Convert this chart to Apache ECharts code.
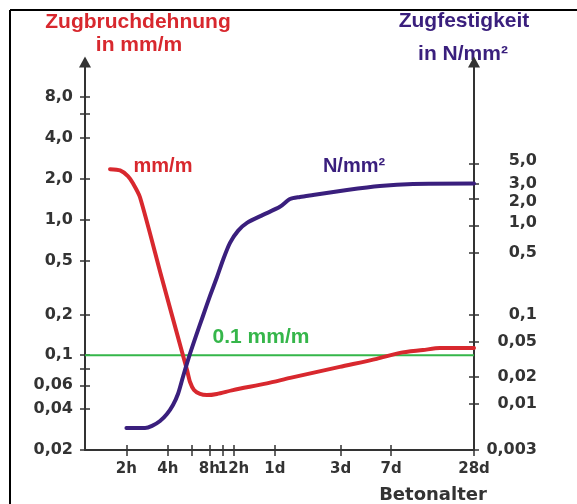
<!DOCTYPE html>
<html>
<head>
<meta charset="utf-8">
<script src="https://cdn.jsdelivr.net/npm/echarts@6/dist/echarts.min.js"></script>
<style>
  html, body { margin: 0; padding: 0; background: #ffffff; }
  #chart { width: 577px; height: 504px; }
</style>
</head>
<body>
<div id="chart"></div>
<script>
// Concrete age in hours (x axis, logarithmic)
const ageTickHours  = [2, 4, 6, 8, 10, 12, 24, 72, 168, 672];
const ageTickLabels = ['2h', '4h', '', '8h', '', '12h', '1d', '3d', '7d', '28d'];

// Left axis: ultimate tensile strain in mm/m
const strainTickValues = [8, 6, 4, 2, 1, 0.5, 0.2, 0.1, 0.08, 0.06, 0.04, 0.02];
const strainTickLabels = ['8,0', '', '4,0', '2,0', '1,0', '0,5', '0,2', '0,1', '', '0,06', '0,04', '0,02'];

// Right axis: tensile strength in N/mm²
const strengthTickValues = [5, 3, 2, 1, 0.5, 0.1, 0.05, 0.02, 0.01, 0.003];
const strengthTickLabels = ['5,0', '3,0', '2,0', '1,0', '0,5', '0,1', '0,05', '0,02', '0,01', '0,003'];

// Tensile strain curve (mm/m) over concrete age (h)
const strainHours  = [1.52, 1.8, 2.05, 2.23, 2.51, 3.6, 5.15, 5.51, 5.8, 6.2, 6.85, 7.7, 9.1, 11.9, 21, 31, 71, 132, 195, 286, 380, 672];
const strainValues = [2.35, 2.3, 2.09, 1.85, 1.46, 0.377, 0.1, 0.078, 0.0634, 0.0554, 0.0518, 0.0508, 0.0518, 0.0553, 0.062, 0.068, 0.082, 0.094, 0.104, 0.109, 0.113, 0.113];

// Tensile strength curve (N/mm²) over concrete age (h)
const strengthHours  = [2, 2.73, 3.07, 3.51, 3.94, 4.36, 4.74, 5.15, 5.7, 6.41, 7.2, 8.1, 9.11, 10.07, 11.32, 12.94, 15.04, 19.66, 26.1, 30.9, 36.5, 45.4, 80.2, 139, 242, 672];
const strengthValues = [0.0053, 0.0053, 0.0056, 0.00636, 0.00763, 0.00964, 0.0128, 0.0199, 0.0335, 0.0577, 0.0968, 0.163, 0.266, 0.414, 0.643, 0.878, 1.08, 1.33, 1.64, 2.01, 2.12, 2.23, 2.54, 2.82, 2.97, 3.0];

// Limit value 0.1 mm/m
const limitHours  = [1, 672];
const limitStrain = [0.1, 0.1];

const RED = '#d8282e';
const PURPLE = '#3a1f7d';
const GREEN = '#35b64a';
const AXIS = '#333333';
const TICK_FONT = '"DejaVu Sans", sans-serif';
const TITLE_FONT = '"Liberation Sans", Arial, sans-serif';

function pairs(xs, ys) { return xs.map((x, i) => [x, ys[i]]); }
function indexOf(values, v) {
  let best = 0, bestErr = Infinity;
  values.forEach((t, i) => {
    const err = Math.abs(Math.log(v) - Math.log(t));
    if (err < bestErr) { bestErr = err; best = i; }
  });
  return bestErr < 0.01 ? best : -1;
}
function labelFor(values, labels) {
  return function (v) {
    const i = indexOf(values, v);
    return i < 0 ? '' : labels[i];
  };
}
function labelled(values, labels) { return values.filter((v, i) => labels[i] !== ''); }

// the crowded strength labels near the top are spread apart a little
const strengthNudge = { '5,0': 'up', '2,0': 'down', '1,0': 'up' };
function strengthLabel(v) {
  const i = indexOf(strengthTickValues, v);
  if (i < 0) return '';
  const text = strengthTickLabels[i];
  return strengthNudge[text] ? '{' + strengthNudge[text] + '|' + text + '}' : text;
}

const chart = echarts.init(document.getElementById('chart'), null, { renderer: 'canvas' });

const axisLineStyle = { color: AXIS, width: 2 };
const tickStyle = { color: AXIS, width: 1.5 };
const tickText = { fontFamily: TICK_FONT, fontWeight: 'bold', fontSize: 16, color: AXIS };

const option = {
  animation: false,
  backgroundColor: '#ffffff',
  grid: { left: 85, right: 103, top: 62, bottom: 54 },
  xAxis: [
    {
      type: 'log', logBase: 10, min: 1, max: 672,
      axisLine: { show: true, lineStyle: axisLineStyle },
      axisTick: { show: true, length: 6, lineStyle: tickStyle, customValues: ageTickHours },
      axisLabel: {
        show: true, customValues: labelled(ageTickHours, ageTickLabels),
        formatter: labelFor(ageTickHours, ageTickLabels),
        fontFamily: TICK_FONT, fontWeight: 'bold', fontSize: 15, color: AXIS, margin: 12
      },
      splitLine: { show: false }, minorTick: { show: false }
    },
    {
      // inner half of the cross-shaped ticks on the age axis
      type: 'log', logBase: 10, min: 1, max: 672, position: 'bottom',
      axisLine: { show: false },
      axisTick: { show: true, inside: true, length: 5, lineStyle: tickStyle, customValues: ageTickHours },
      axisLabel: { show: false }, splitLine: { show: false }
    }
  ],
  yAxis: [
    {
      type: 'log', logBase: 10, min: 0.02, max: 14.5, position: 'left',
      axisLine: { show: true, lineStyle: axisLineStyle, symbol: ['none', 'triangle'], symbolSize: [12, 11] },
      axisTick: { show: true, length: 5, lineStyle: tickStyle, customValues: strainTickValues },
      axisLabel: Object.assign({
        show: true, customValues: labelled(strainTickValues, strainTickLabels),
        formatter: labelFor(strainTickValues, strainTickLabels), margin: 12
      }, tickText),
      splitLine: { show: false }, minorTick: { show: false }
    },
    {
      type: 'log', logBase: 10, min: 0.003, max: 70, position: 'right',
      axisLine: { show: true, lineStyle: axisLineStyle, symbol: ['none', 'triangle'], symbolSize: [12, 11] },
      axisTick: { show: true, length: 5, lineStyle: tickStyle, customValues: strengthTickValues },
      axisLabel: Object.assign({
        show: true, customValues: strengthTickValues,
        formatter: strengthLabel, align: 'right', margin: 63,
        rich: {
          up: Object.assign({ padding: [0, 0, 6, 0] }, tickText),
          down: Object.assign({ padding: [6, 0, 0, 0] }, tickText)
        }
      }, tickText),
      splitLine: { show: false }, minorTick: { show: false }
    },
    {
      // inner half of the cross-shaped ticks on the strain axis
      type: 'log', logBase: 10, min: 0.02, max: 14.5, position: 'left',
      axisLine: { show: false },
      axisTick: { show: true, inside: true, length: 5, lineStyle: tickStyle, customValues: strainTickValues },
      axisLabel: { show: false }, splitLine: { show: false }
    },
    {
      // inner half of the cross-shaped ticks on the strength axis
      type: 'log', logBase: 10, min: 0.003, max: 70, position: 'right',
      axisLine: { show: false },
      axisTick: { show: true, inside: true, length: 5, lineStyle: tickStyle, customValues: strengthTickValues },
      axisLabel: { show: false }, splitLine: { show: false }
    }
  ],
  series: [
    {
      name: '0.1 mm/m', type: 'line', xAxisIndex: 0, yAxisIndex: 0,
      data: pairs(limitHours, limitStrain), showSymbol: false, silent: true,
      lineStyle: { color: GREEN, width: 2 }, z: 2
    },
    {
      name: 'mm/m', type: 'line', xAxisIndex: 0, yAxisIndex: 0,
      data: pairs(strainHours, strainValues), showSymbol: false, smooth: 0.25,
      lineStyle: { color: RED, width: 4, cap: 'round', join: 'round' }, z: 3
    },
    {
      name: 'N/mm²', type: 'line', xAxisIndex: 0, yAxisIndex: 1,
      data: pairs(strengthHours, strengthValues), showSymbol: false, smooth: 0.25,
      lineStyle: { color: PURPLE, width: 4, cap: 'round', join: 'round' }, z: 4
    }
  ],
  graphic: [
    // page frame
    { type: 'line', shape: { x1: 10, y1: 10, x2: 577, y2: 10 }, style: { stroke: '#000', lineWidth: 2 } },
    { type: 'line', shape: { x1: 10, y1: 10, x2: 10, y2: 504 }, style: { stroke: '#000', lineWidth: 2 } },
    // axis titles
    { type: 'text', x: 138, y: 22.5, style: { text: 'Zugbruchdehnung', fill: RED, font: 'bold 21px ' + TITLE_FONT, align: 'center', verticalAlign: 'middle' } },
    { type: 'text', x: 139, y: 45.5, style: { text: 'in mm/m', fill: RED, font: 'bold 21px ' + TITLE_FONT, align: 'center', verticalAlign: 'middle' } },
    { type: 'text', x: 464, y: 21, style: { text: 'Zugfestigkeit', fill: PURPLE, font: 'bold 21px ' + TITLE_FONT, align: 'center', verticalAlign: 'middle' } },
    { type: 'text', x: 463, y: 54, style: { text: 'in N/mm²', fill: PURPLE, font: 'bold 21px ' + TITLE_FONT, align: 'center', verticalAlign: 'middle' } },
    { type: 'text', x: 433, y: 495, style: { text: 'Betonalter', fill: AXIS, font: 'bold 18px ' + TICK_FONT, align: 'center', verticalAlign: 'middle' } },
    // curve labels
    { type: 'text', x: 163, y: 166, style: { text: 'mm/m', fill: RED, font: 'bold 20px ' + TITLE_FONT, align: 'center', verticalAlign: 'middle' } },
    { type: 'text', x: 354, y: 166, style: { text: 'N/mm²', fill: PURPLE, font: 'bold 20px ' + TITLE_FONT, align: 'center', verticalAlign: 'middle' } },
    { type: 'text', x: 261, y: 337, style: { text: '0.1 mm/m', fill: GREEN, font: 'bold 21px ' + TITLE_FONT, align: 'center', verticalAlign: 'middle' } }
  ]
};

chart.setOption(option);
</script>
</body>
</html>
